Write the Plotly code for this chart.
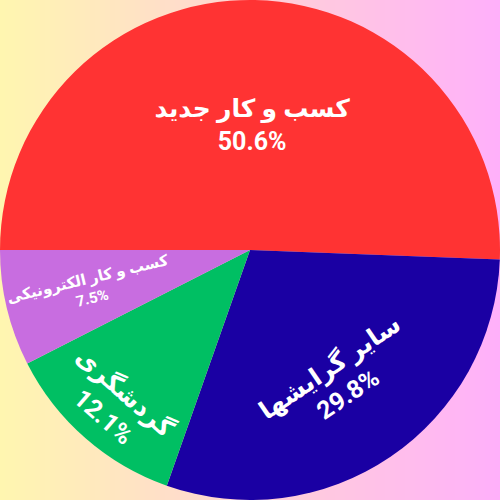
import plotly.graph_objects as go

labels = ["کسب و کار جدید", "سایر گرایشها", "گردشگری", "کسب و کار الکترونیکی"]
values = [50.6, 29.8, 12.1, 7.5]
colors = ["#FF3333", "#1A00A3", "#00BF63", "#C86DE0"]
# label orientation per slice, as seen in the picture
orientations = ["horizontal", "tangential", "tangential", "radial"]

# background gradient, left yellow -> right pink
left_rgb = (255, 246, 176)
right_rgb = (255, 176, 250)
n_strips = 100
bg_shapes = []
for i in range(n_strips):
    t = i / (n_strips - 1)
    r, g, b = [round(a + (c - a) * t) for a, c in zip(left_rgb, right_rgb)]
    bg_shapes.append(
        dict(
            type="rect",
            xref="paper",
            yref="paper",
            x0=i / n_strips,
            x1=(i + 1) / n_strips + 0.002,
            y0=0,
            y1=1,
            fillcolor=f"rgb({r},{g},{b})",
            line=dict(width=0),
            layer="below",
        )
    )

fig = go.Figure()

# one pie per text orientation, stacked on the same spot;
# only the first one is coloured
for k, orient in enumerate(["horizontal", "tangential", "radial"]):
    templates = [
        "%{label}<br>%{percent}" if o == orient else "" for o in orientations
    ]
    fig.add_trace(
        go.Pie(
            labels=labels,
            values=values,
            sort=False,
            direction="clockwise",
            rotation=270,
            marker=dict(
                colors=colors if k == 0 else ["rgba(0,0,0,0)"] * len(values),
                line=dict(width=0),
            ),
            texttemplate=templates,
            textposition="inside",
            insidetextorientation=orient,
            textfont=dict(family="Roboto, Noto Sans, DejaVu Sans", size=25, color="white", weight="bold"),
            hoverinfo="label+percent" if k == 0 else "skip",
        )
    )

fig.update_layout(
    width=500,
    height=500,
    margin=dict(l=0, r=0, t=0, b=0),
    showlegend=False,
    paper_bgcolor="rgba(0,0,0,0)",
    plot_bgcolor="rgba(0,0,0,0)",
    shapes=bg_shapes,
)

fig.write_html(
    "out.html",
    config={"displayModeBar": False},
    post_script="document.body.style.margin='0';",
)
